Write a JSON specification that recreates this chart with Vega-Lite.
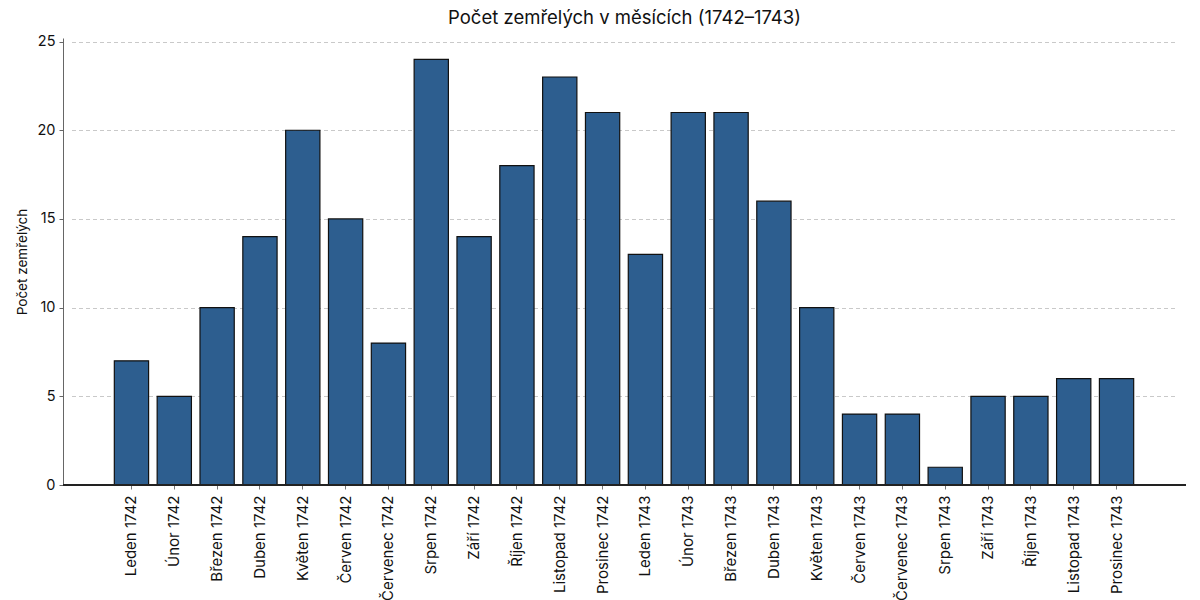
{
  "$schema": "https://vega.github.io/schema/vega-lite/v6.json",
  "autosize": {"type": "none"},
  "width": 1123,
  "height": 447,
  "padding": {"left": 63, "top": 38, "right": 14, "bottom": 115},
  "background": "white",
  "title": {
    "text": "Počet zemřelých v měsících (1742–1743)",
    "font": "Inter",
    "fontSize": 18.5,
    "fontWeight": "normal",
    "color": "#111",
    "offset": 6
  },
  "data": {
    "values": [
      {"mesic": "Leden 1742", "pocet": 7},
      {"mesic": "Únor 1742", "pocet": 5},
      {"mesic": "Březen 1742", "pocet": 10},
      {"mesic": "Duben 1742", "pocet": 14},
      {"mesic": "Květen 1742", "pocet": 20},
      {"mesic": "Červen 1742", "pocet": 15},
      {"mesic": "Červenec 1742", "pocet": 8},
      {"mesic": "Srpen 1742", "pocet": 24},
      {"mesic": "Září 1742", "pocet": 14},
      {"mesic": "Říjen 1742", "pocet": 18},
      {"mesic": "Listopad 1742", "pocet": 23},
      {"mesic": "Prosinec 1742", "pocet": 21},
      {"mesic": "Leden 1743", "pocet": 13},
      {"mesic": "Únor 1743", "pocet": 21},
      {"mesic": "Březen 1743", "pocet": 21},
      {"mesic": "Duben 1743", "pocet": 16},
      {"mesic": "Květen 1743", "pocet": 10},
      {"mesic": "Červen 1743", "pocet": 4},
      {"mesic": "Červenec 1743", "pocet": 4},
      {"mesic": "Srpen 1743", "pocet": 1},
      {"mesic": "Září 1743", "pocet": 5},
      {"mesic": "Říjen 1743", "pocet": 5},
      {"mesic": "Listopad 1743", "pocet": 6},
      {"mesic": "Prosinec 1743", "pocet": 6}
    ]
  },
  "layer": [
    {
      "mark": {"type": "bar", "color": "#2d5e8f", "stroke": "#111", "strokeWidth": 1.2},
      "encoding": {
        "x": {
          "field": "mesic",
          "type": "nominal",
          "sort": null,
          "scale": {"paddingInner": 0.2, "paddingOuter": 1, "range": [8.5, 1113.5]},
          "axis": {
            "title": null,
            "labelAngle": -90,
            "labelAlign": "right",
            "labelBaseline": "middle",
            "labelFontSize": 15,
            "labelPadding": 6,
            "labelColor": "#111",
            "tickColor": "#777",
            "tickSize": 4,
            "domain": false,
            "grid": false,
            "labelOverlap": false
          }
        },
        "y": {
          "field": "pocet",
          "type": "quantitative",
          "scale": {"domain": [0, 25.2], "nice": false},
          "axis": {
            "title": "Počet zemřelých",
            "titleFontSize": 13.5,
            "titleFontWeight": "normal",
            "titleColor": "#111",
            "titlePadding": 8,
            "values": [0, 5, 10, 15, 20, 25],
            "labelFontSize": 14.5,
            "labelColor": "#111",
            "labelPadding": 4,
            "tickColor": "#666",
            "tickSize": 4,
            "domainColor": "#666",
            "grid": true,
            "gridColor": "#bbb",
            "gridDash": [4, 3],
            "gridWidth": 0.8
          }
        }
      }
    },
    {
      "mark": {"type": "rule", "color": "#222", "strokeWidth": 1},
      "encoding": {"y": {"datum": 0}}
    }
  ],
  "config": {
    "font": "Inter",
    "view": {"stroke": null},
    "axis": {"labelFont": "Inter", "titleFont": "Inter"}
  }
}
